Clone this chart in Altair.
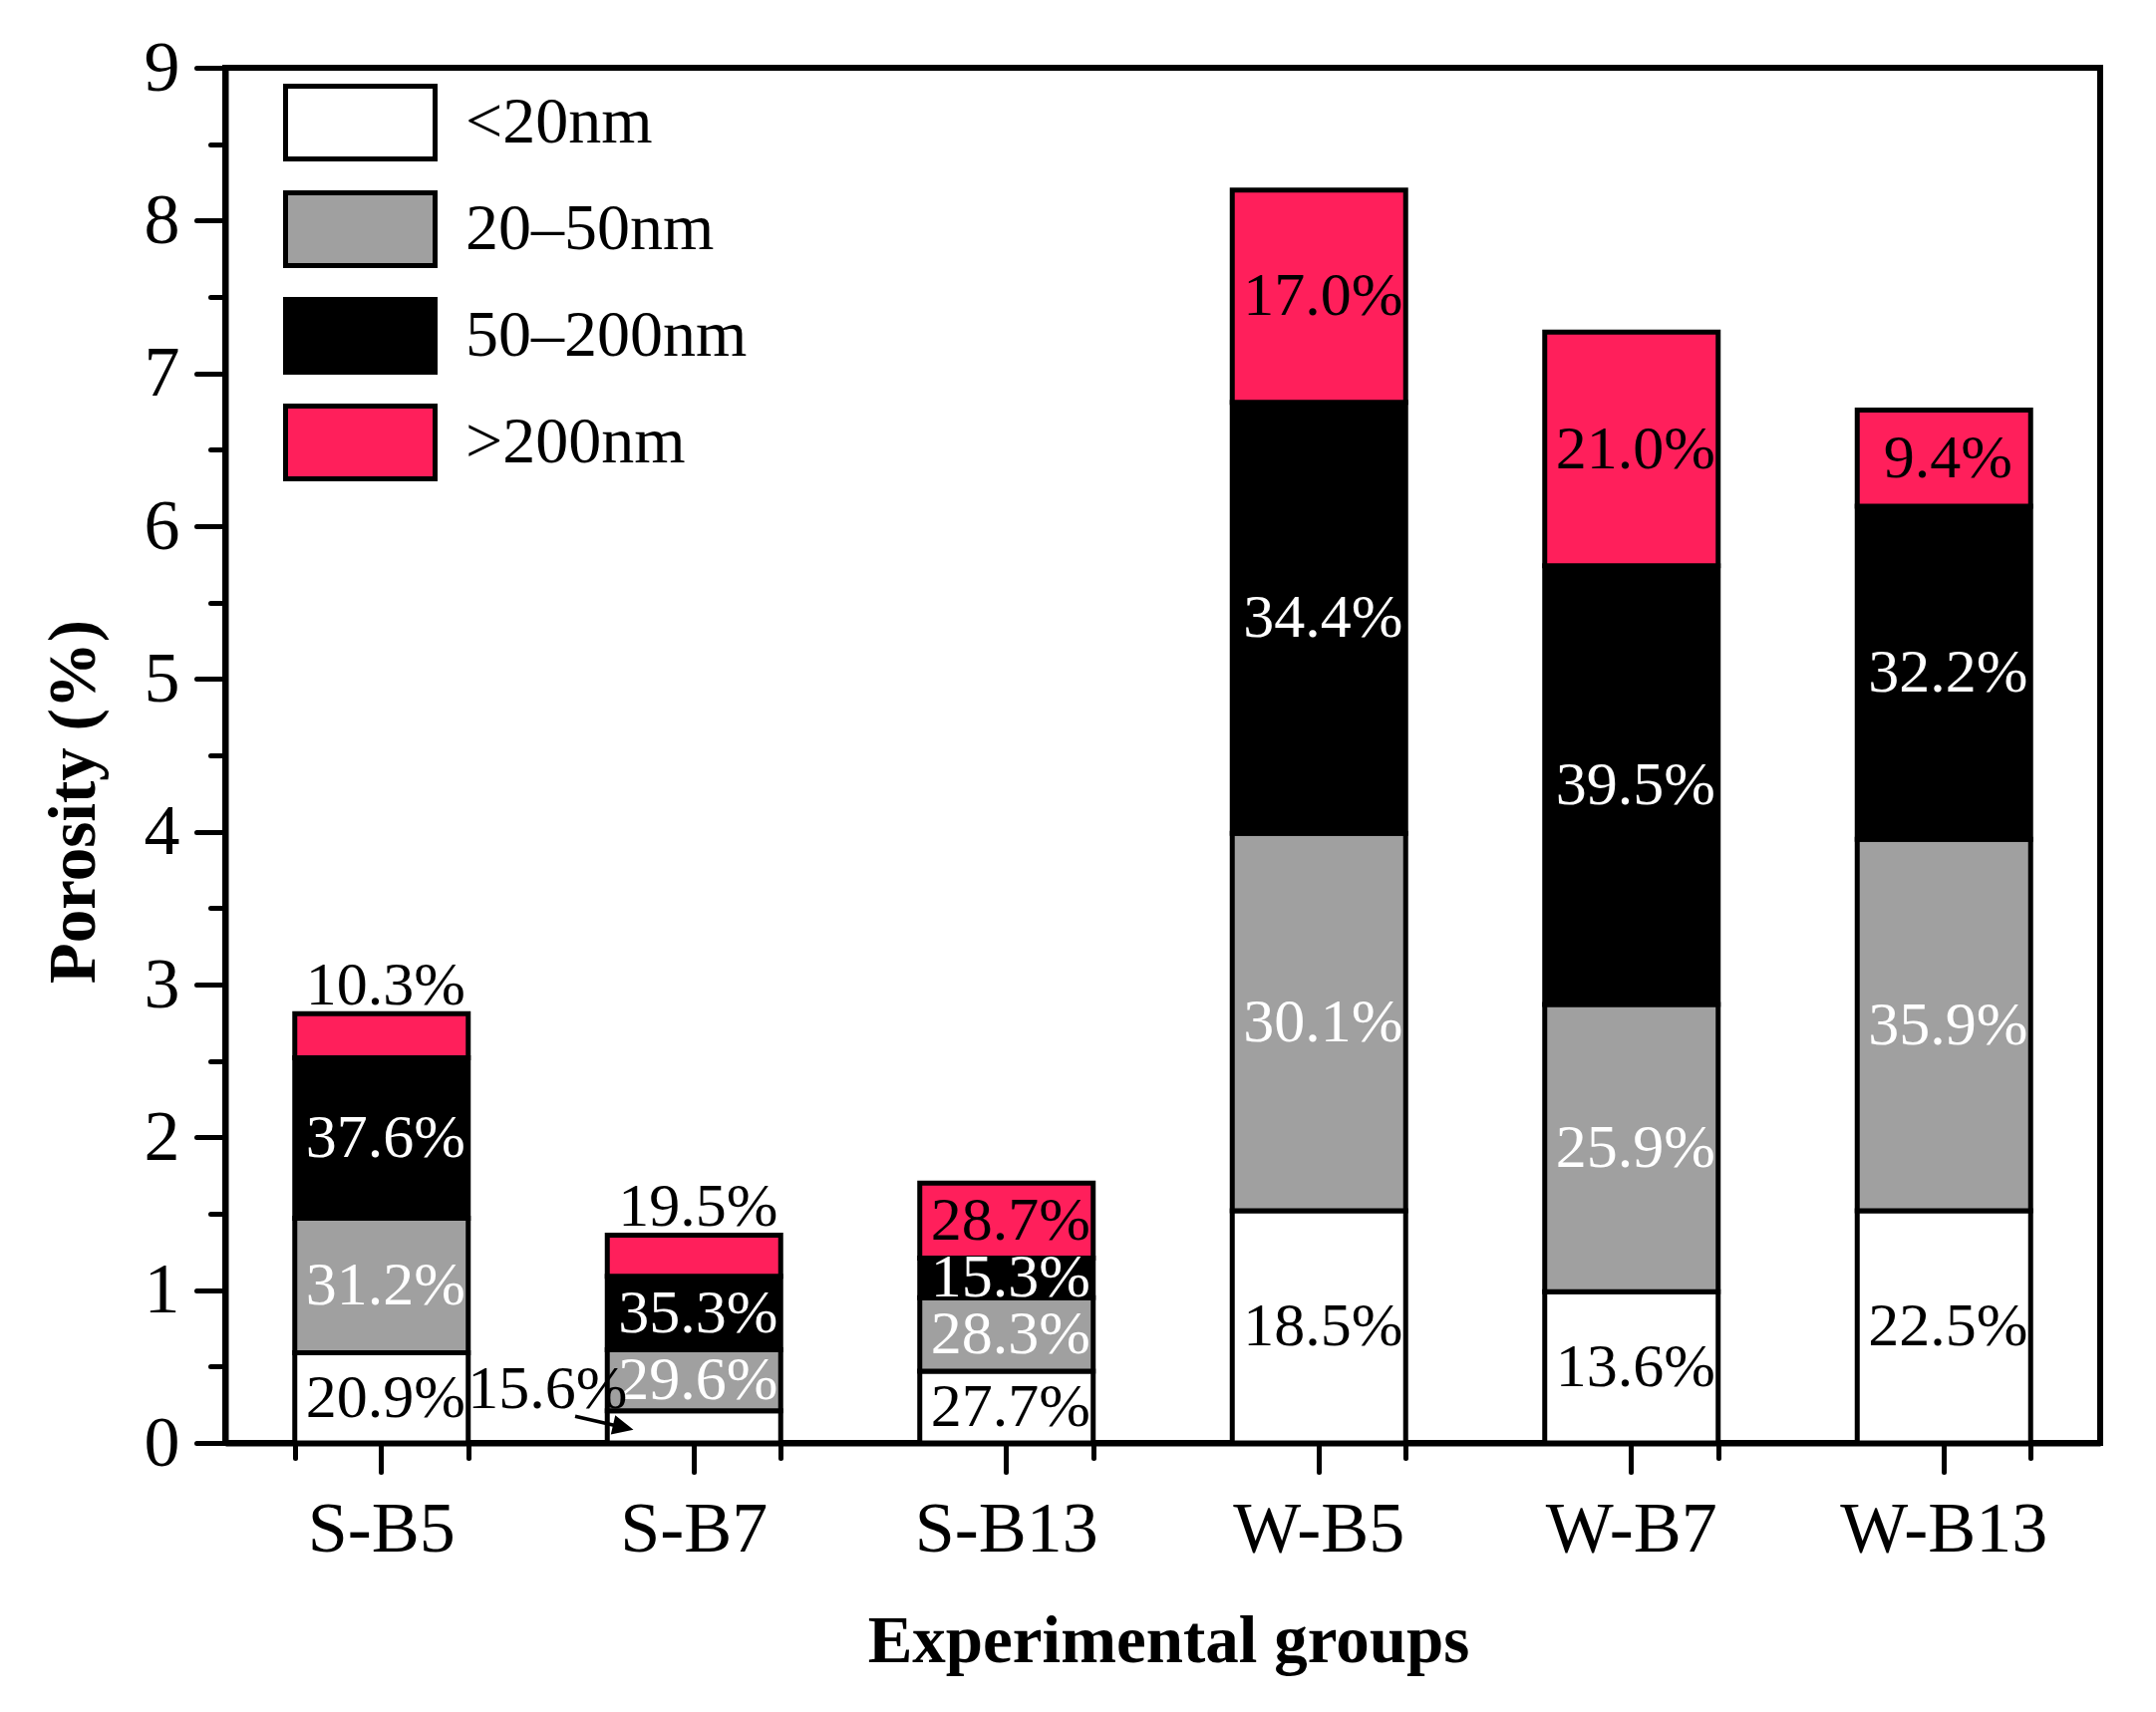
import altair as alt
import pandas as pd

# ---- data ----
groups = ["S-B5", "S-B7", "S-B13", "W-B5", "W-B7", "W-B13"]
classes = ["<20nm", "20–50nm", "50–200nm", ">200nm"]
fills = ["#FFFFFF", "#A0A0A0", "#000000", "#FF1F5B"]
text_colors = ["black", "white", "white", "black"]

# porosity (%) contributed by each pore-size class
lt20 = [0.59, 0.21, 0.47, 1.52, 0.99, 1.52]
r20_50 = [0.88, 0.40, 0.48, 2.47, 1.88, 2.43]
r50_200 = [1.05, 0.48, 0.26, 2.82, 2.87, 2.18]
gt200 = [0.29, 0.27, 0.49, 1.39, 1.53, 0.63]

# percentage labels
pct_lt20 = ["20.9%", "15.6%", "27.7%", "18.5%", "13.6%", "22.5%"]
pct_20_50 = ["31.2%", "29.6%", "28.3%", "30.1%", "25.9%", "35.9%"]
pct_50_200 = ["37.6%", "35.3%", "15.3%", "34.4%", "39.5%", "32.2%"]
pct_gt200 = ["10.3%", "19.5%", "28.7%", "17.0%", "21.0%", "9.4%"]

# labels that sit outside their segment
outside = {("S-B5", ">200nm"): "above", ("S-B7", ">200nm"): "above",
           ("S-B7", "<20nm"): "side"}

values = [lt20, r20_50, r50_200, gt200]
pcts = [pct_lt20, pct_20_50, pct_50_200, pct_gt200]

rows = []
for gi, g in enumerate(groups):
    base = 0.0
    for ci, c in enumerate(classes):
        v = values[ci][gi]
        rows.append(dict(group=g, cls=c, order=ci, y0=base, y1=base + v,
                         mid=base + v / 2, pct=pcts[ci][gi],
                         tcolor=text_colors[ci],
                         place=outside.get((g, c), "inside")))
        base += v
df = pd.DataFrame(rows)

FONT = "Liberation Serif"
LBL = 62

xscale = alt.Scale(domain=groups, paddingInner=0.445, paddingOuter=0.2225)
yscale = alt.Scale(domain=[0, 9], nice=False, zero=True)

x_major = alt.Axis(title="Experimental groups", labelAngle=0, labelFont=FONT,
                   labelFontSize=72, labelColor="black", labelLimit=600,
                   tickSize=29, tickWidth=5, tickColor="black",
                   tickCap="round", labelPadding=22, domainWidth=6,
                   domainColor="black", titleFont=FONT, titleFontSize=67,
                   titleFontWeight="bold", titleColor="black", titleX=946,
                   titleY=219, titleBaseline="alphabetic",
                   titleAlign="center", grid=False, orient="bottom")
x_minor = alt.Axis(title=None, labels=False, domain=False, tickBand="extent",
                   tickSize=15, tickWidth=5, tickColor="black",
                   tickCap="round", grid=False, orient="bottom")
y_major = alt.Axis(title="Porosity (%)", values=list(range(10)), format="d",
                   labelFont=FONT, labelFontSize=72, labelColor="black",
                   tickSize=29, tickWidth=5, tickColor="black",
                   tickCap="round", labelPadding=17, domainWidth=6,
                   domainColor="black", titleFont=FONT, titleFontSize=67,
                   titleFontWeight="bold", titleColor="black", titleX=-132,
                   titleY=736, titleBaseline="alphabetic", titleAngle=270,
                   titleAlign="center", grid=False, orient="left")
y_minor = alt.Axis(title=None, values=[i + 0.5 for i in range(9)],
                   labels=False, domain=False, tickSize=15, tickWidth=5,
                   tickColor="black", tickCap="round", grid=False,
                   orient="left")

# legend swatch: a 150x73 box drawn from a 75px symbol (path spans x -1..3)
legend = alt.Legend(orient="none", legendX=58, legendY=15, title=None,
                    symbolType="M-1,-0.973L3,-0.973L3,0.973L-1,0.973Z",
                    symbolSize=5625, symbolStrokeColor="black",
                    symbolStrokeWidth=5, symbolOpacity=1, labelFont=FONT,
                    labelFontSize=66, labelColor="black", labelOffset=103,
                    labelLimit=600, rowPadding=13, padding=0)

bars = alt.Chart(df).mark_bar(stroke="black", strokeWidth=5).encode(
    x=alt.X("group:N", scale=xscale, axis=x_major, sort=groups),
    y=alt.Y("y0:Q", scale=yscale, axis=y_major),
    y2="y1:Q",
    fill=alt.Fill("cls:N", scale=alt.Scale(domain=classes, range=fills),
                  legend=legend),
    order="order:Q",
)

inside_labels = alt.Chart(df).transform_filter(
    alt.datum.place == "inside"
).mark_text(font=FONT, fontSize=LBL, dx=4, baseline="middle").encode(
    x=alt.X("group:N", scale=xscale, axis=x_minor, sort=groups),
    y=alt.Y("mid:Q", scale=yscale, axis=y_minor),
    text="pct:N",
    color=alt.Color("tcolor:N", scale=None),
)

above_labels = alt.Chart(df).transform_filter(
    alt.datum.place == "above"
).mark_text(font=FONT, fontSize=LBL, dx=4, dy=-9, baseline="alphabetic",
            color="black").encode(
    x=alt.X("group:N", scale=xscale, axis=None, sort=groups),
    y=alt.Y("y1:Q", scale=yscale, axis=None),
    text="pct:N",
)

side_labels = alt.Chart(df).transform_filter(
    alt.datum.place == "side"
).mark_text(font=FONT, fontSize=LBL, dx=-147, dy=-38, baseline="middle",
            color="black").encode(
    x=alt.X("group:N", scale=xscale, axis=None, sort=groups),
    y=alt.Y("mid:Q", scale=yscale, axis=None),
    text="pct:N",
)

arrow_path = ("M-1,-0.06L0.3,-0.06L0.3,-0.33L1,0L0.3,0.33L0.3,0.06"
              "L-1,0.06Z")
arrow = alt.Chart(df).transform_filter(
    alt.datum.place == "side"
).mark_point(shape=arrow_path, filled=True, size=3600, angle=13,
             color="black", opacity=1, xOffset=-90, yOffset=-4).encode(
    x=alt.X("group:N", scale=xscale, axis=None, sort=groups),
    y=alt.Y("mid:Q", scale=yscale, axis=None),
)

chart = alt.layer(bars, inside_labels, above_labels, side_labels, arrow).resolve_axis(
    x="independent", y="independent"
).properties(
    width=1881, height=1380,
    padding={"left": 218, "top": 60, "right": 48, "bottom": 262},
    autosize=alt.AutoSizeParams(type="none"),
    background="white",
).configure_view(stroke="black", strokeWidth=6)

chart.save("out.html", embed_options={"renderer": "svg", "actions": False})
